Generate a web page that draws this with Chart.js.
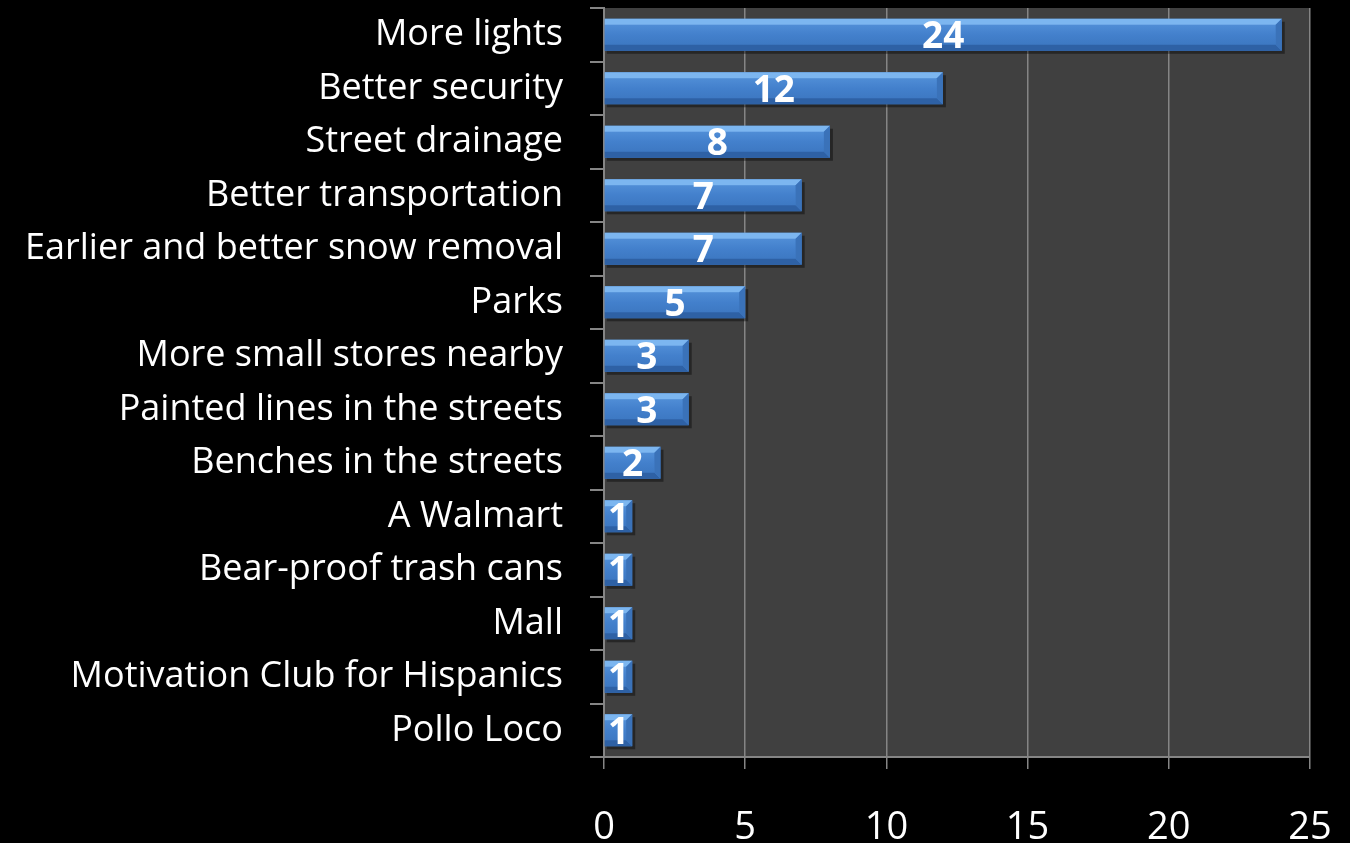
<!DOCTYPE html>
<html>
<head>
<meta charset="utf-8">
<script src="https://cdn.jsdelivr.net/npm/chart.js@4"></script>
<style>
  html, body { margin: 0; padding: 0; background: #000; }
  #wrap { width: 1350px; height: 843px; }
</style>
</head>
<body>
<div id="wrap"><canvas id="chart" width="1350" height="843"></canvas></div>
<script>
const categories = [
  'More lights', 'Better security', 'Street drainage', 'Better transportation',
  'Earlier and better snow removal', 'Parks', 'More small stores nearby',
  'Painted lines in the streets', 'Benches in the streets', 'A Walmart',
  'Bear-proof trash cans', 'Mall', 'Motivation Club for Hispanics', 'Pollo Loco'
];
const counts = [24, 12, 8, 7, 7, 5, 3, 3, 2, 1, 1, 1, 1, 1];
const xMin = 0;
const xMax = 25;
const xStep = 5;

const FONT = '"Open Sans", Lato, sans-serif';
const AXIS_GRAY = '#858585';

// dark plot background behind grid
const plotBg = {
  id: 'plotBg',
  beforeDraw(chart) {
    const { ctx, chartArea: a } = chart;
    ctx.save();
    ctx.fillStyle = '#000';
    ctx.fillRect(0, 0, chart.width, chart.height);
    ctx.fillStyle = '#404040';
    ctx.fillRect(a.left, a.top, a.right - a.left, a.bottom - a.top);
    ctx.restore();
  }
};

// soft shadow under each bar, then bevel edges + value labels on top
const bevelBars = {
  id: 'bevelBars',
  beforeDatasetsDraw(chart) {
    const ctx = chart.ctx;
    const meta = chart.getDatasetMeta(0);
    ctx.save();
    ctx.fillStyle = 'rgba(0,0,0,0.4)';
    meta.data.forEach(el => {
      const p = el.getProps(['x', 'y', 'base', 'height'], true);
      ctx.fillRect(p.base + 2, p.y - p.height / 2 + 3, p.x - p.base + 1, p.height);
    });
    ctx.restore();
  },
  afterDatasetsDraw(chart) {
    const ctx = chart.ctx;
    const meta = chart.getDatasetMeta(0);
    ctx.save();
    meta.data.forEach((el, i) => {
      const p = el.getProps(['x', 'y', 'base', 'height'], true);
      const L = p.base, R = p.x, T = p.y - p.height / 2, B = p.y + p.height / 2;
      const b = Math.min(6, (R - L) / 2);

      const g = ctx.createLinearGradient(0, T, 0, B);
      g.addColorStop(0, '#5795dc');
      g.addColorStop(0.5, '#4380cc');
      g.addColorStop(1, '#3a74bd');
      ctx.fillStyle = g;
      ctx.fillRect(L, T + b, R - L - b, B - T - 2 * b);

      // top bevel
      ctx.fillStyle = '#7cb6f0';
      ctx.beginPath();
      ctx.moveTo(L, T); ctx.lineTo(R, T); ctx.lineTo(R - b, T + b); ctx.lineTo(L, T + b);
      ctx.closePath(); ctx.fill();
      // bottom bevel
      ctx.fillStyle = '#2e61a5';
      ctx.beginPath();
      ctx.moveTo(L, B); ctx.lineTo(R, B); ctx.lineTo(R - b, B - b); ctx.lineTo(L, B - b);
      ctx.closePath(); ctx.fill();
      // right end bevel
      ctx.fillStyle = '#3a72b9';
      ctx.beginPath();
      ctx.moveTo(R, T); ctx.lineTo(R, B); ctx.lineTo(R - b, B - b); ctx.lineTo(R - b, T + b);
      ctx.closePath(); ctx.fill();

      // value label
      ctx.fillStyle = '#fff';
      ctx.font = 'bold 37px ' + FONT;
      ctx.textAlign = 'center';
      ctx.textBaseline = 'middle';
      ctx.fillText(String(counts[i]), (L + R) / 2, p.y + 3);
    });
    ctx.restore();
  }
};

new Chart(document.getElementById('chart').getContext('2d'), {
  type: 'bar',
  data: {
    labels: categories,
    datasets: [{
      data: counts,
      backgroundColor: '#4380cc',
      borderWidth: 0,
      barPercentage: 0.6,
      categoryPercentage: 1
    }]
  },
  options: {
    indexAxis: 'y',
    responsive: false,
    animation: false,
    layout: { padding: { top: 8, right: 40, left: 0, bottom: 0 } },
    plugins: {
      legend: { display: false },
      tooltip: { enabled: false }
    },
    scales: {
      x: {
        min: xMin,
        max: xMax,
        afterFit: s => { s.height = 86; s.paddingLeft = 0; s.paddingRight = 0; },
        ticks: {
          stepSize: xStep,
          color: '#fff',
          font: { family: FONT, size: 38 },
          padding: 36,
          maxRotation: 0
        },
        grid: { color: AXIS_GRAY, lineWidth: 1.5, tickLength: 12 },
        border: { color: AXIS_GRAY, width: 2 }
      },
      y: {
        afterFit: s => { s.width = 604; s.paddingTop = 0; s.paddingBottom = 0; },
        ticks: {
          color: '#fff',
          font: { family: FONT, size: 36 },
          padding: 27,
          autoSkip: false
        },
        grid: { drawOnChartArea: false, color: AXIS_GRAY, lineWidth: 2, tickLength: 14 },
        border: { color: AXIS_GRAY, width: 2 }
      }
    }
  },
  plugins: [plotBg, bevelBars]
});
</script>
</body>
</html>
